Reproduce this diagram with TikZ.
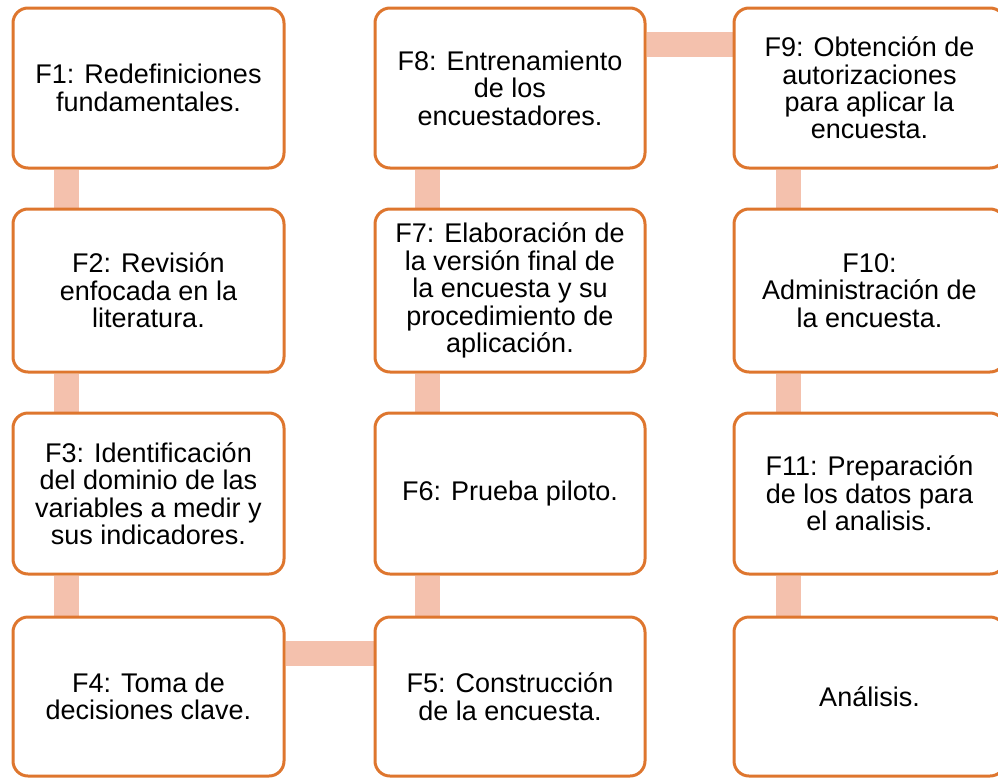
\documentclass[tikz,border=0pt]{standalone}
\usepackage{fontspec}
\setmainfont{Liberation Sans}
\usetikzlibrary{backgrounds}
\definecolor{boxline}{RGB}{222,118,46}
\definecolor{connfill}{RGB}{244,193,173}
\begin{document}
\begin{tikzpicture}[x=1pt,y=-1pt,
  fbox/.style={draw=boxline, line width=3pt, fill=white, rounded corners=15pt,
    minimum width=271pt, inner sep=0pt, align=center, text=black,
    font=\fontsize{27}{27.4}\selectfont},
  conn/.style={draw=connfill, line width=25pt}]
\useasboundingbox (0,0) rectangle (998,779);
\node[fbox, minimum height=160pt] (F1) at (148.5,88) {F1: Redefiniciones\\fundamentales.};
\node[fbox, minimum height=163pt] (F2) at (148.5,290.5) {F2: Revisión\\enfocada en la\\literatura.};
\node[fbox, minimum height=161pt] (F3) at (148.5,493.5) {F3: Identificación\\del dominio de las\\variables a medir y\\sus indicadores.};
\node[fbox, minimum height=159pt] (F4) at (148.5,696.5) {F4: Toma de\\decisiones clave.};
\node[fbox, minimum height=159pt, minimum width=270pt] (F5) at (510,696.5) {F5: Construcción\\de la encuesta.};
\node[fbox, minimum height=161pt, minimum width=270pt] (F6) at (510,493.5) {F6: Prueba piloto.};
\node[fbox, minimum height=163pt, minimum width=270pt] (F7) at (510,290.5) {F7: Elaboración de\\la versión final de\\la encuesta y su\\procedimiento de\\aplicación.};
\node[fbox, minimum height=160pt, minimum width=270pt] (F8) at (510,88) {F8: Entrenamiento\\de los\\encuestadores.};
\node[fbox, minimum height=160pt] (F9) at (869.5,88) {F9: Obtención de\\autorizaciones\\para aplicar la\\encuesta.};
\node[fbox, minimum height=163pt] (F10) at (869.5,290.5) {F10:\\Administración de\\la encuesta.};
\node[fbox, minimum height=161pt] (F11) at (869.5,493.5) {F11: Preparación\\de los datos para\\el analisis.};
\node[fbox, minimum height=159pt] (AN) at (869.5,696.5) {Análisis.};
\begin{scope}[on background layer]
\draw[conn] ([xshift=55pt]F1.south west) -- ([xshift=55pt]F2.north west);
\draw[conn] ([xshift=55pt]F2.south west) -- ([xshift=55pt]F3.north west);
\draw[conn] ([xshift=55pt]F3.south west) -- ([xshift=55pt]F4.north west);
\draw[conn] ([yshift=-38pt]F4.north east) -- ([yshift=-38pt]F5.north west);
\draw[conn] ([xshift=54pt]F5.north west) -- ([xshift=54pt]F6.south west);
\draw[conn] ([xshift=54pt]F6.north west) -- ([xshift=54pt]F7.south west);
\draw[conn] ([xshift=54pt]F7.north west) -- ([xshift=54pt]F8.south west);
\draw[conn] ([yshift=-38pt]F8.north east) -- ([yshift=-38pt]F9.north west);
\draw[conn] ([xshift=56pt]F9.south west) -- ([xshift=56pt]F10.north west);
\draw[conn] ([xshift=56pt]F10.south west) -- ([xshift=56pt]F11.north west);
\draw[conn] ([xshift=56pt]F11.south west) -- ([xshift=56pt]AN.north west);
\end{scope}
\end{tikzpicture}
\end{document}
